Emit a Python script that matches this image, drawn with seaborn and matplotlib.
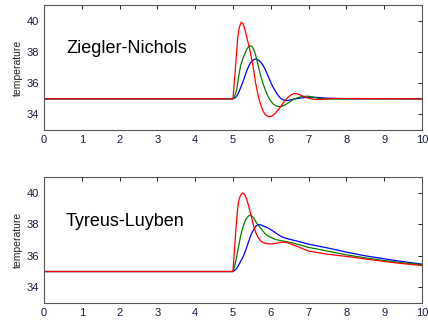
import matplotlib
matplotlib.use("Agg")
import matplotlib.pyplot as plt
import seaborn as sns
import pandas as pd

# ---- data ----
zn_red_t = [0, 5.0, 5.04, 5.07, 5.1, 5.13, 5.17, 5.22, 5.27, 5.32, 5.38, 5.44, 5.5, 5.55, 5.6, 5.65, 5.69, 5.74, 5.78, 5.85, 5.94, 6.02, 6.09, 6.18, 6.27, 6.35, 6.44, 6.53, 6.62, 6.7, 6.8, 6.9, 7.0, 7.15, 7.33, 7.6, 8.0, 10.0]
zn_red_y = [35, 35.0, 36.2, 37.1, 38.1, 39.0, 39.6, 39.9, 39.8, 39.4, 38.8, 38.2, 37.5, 36.8, 36.0, 35.4, 34.96, 34.6, 34.3, 34.0, 33.85, 33.88, 34.0, 34.25, 34.53, 34.8, 35.06, 35.24, 35.34, 35.32, 35.23, 35.12, 35.04, 34.96, 34.96, 35.02, 35.02, 35.0]
zn_green_t = [0, 5.0, 5.05, 5.1, 5.15, 5.2, 5.25, 5.3, 5.37, 5.44, 5.5, 5.55, 5.6, 5.65, 5.7, 5.75, 5.8, 5.85, 5.9, 5.95, 6.0, 6.05, 6.12, 6.22, 6.3, 6.4, 6.5, 6.6, 6.7, 6.8, 6.97, 7.1, 7.2, 7.35, 7.5, 8.0, 10.0]
zn_green_y = [35, 35.0, 35.2, 35.6, 36.4, 37.1, 37.5, 37.8, 38.2, 38.4, 38.35, 38.15, 37.8, 37.3, 36.8, 36.34, 35.95, 35.6, 35.3, 35.06, 34.86, 34.7, 34.57, 34.49, 34.52, 34.64, 34.8, 34.96, 35.06, 35.13, 35.17, 35.12, 35.06, 35.0, 34.98, 35.0, 35.0]
zn_blue_t = [0, 5.0, 5.05, 5.1, 5.15, 5.2, 5.25, 5.3, 5.35, 5.4, 5.45, 5.5, 5.56, 5.62, 5.68, 5.75, 5.8, 5.85, 5.9, 5.95, 6.0, 6.05, 6.1, 6.15, 6.2, 6.25, 6.31, 6.37, 6.44, 6.5, 6.6, 6.7, 6.85, 7.0, 7.15, 7.5, 8.0, 10.0]
zn_blue_y = [35, 35.0, 35.05, 35.17, 35.4, 35.7, 36.0, 36.34, 36.7, 37.0, 37.25, 37.4, 37.52, 37.55, 37.47, 37.3, 37.12, 36.9, 36.62, 36.34, 36.05, 35.8, 35.58, 35.38, 35.2, 35.06, 34.95, 34.9, 34.89, 34.92, 34.97, 35.02, 35.07, 35.1, 35.1, 35.04, 35.0, 35.0]

tl_red_t = [0, 5.0, 5.04, 5.08, 5.12, 5.15, 5.2, 5.25, 5.3, 5.35, 5.4, 5.45, 5.5, 5.55, 5.6, 5.65, 5.7, 5.75, 5.8, 5.85, 5.92, 6.0, 6.08, 6.15, 6.3, 6.4, 6.5, 6.62, 6.75, 6.88, 7.0, 7.25, 7.5, 7.75, 8.0, 8.5, 9.0, 9.5, 10.0]
tl_red_y = [35, 35.0, 36.4, 37.77, 38.9, 39.47, 39.85, 40.0, 39.92, 39.68, 39.3, 38.83, 38.35, 37.87, 37.5, 37.23, 37.05, 36.91, 36.84, 36.8, 36.77, 36.75, 36.77, 36.8, 36.87, 36.86, 36.78, 36.67, 36.55, 36.42, 36.3, 36.2, 36.1, 36.03, 35.96, 35.8, 35.64, 35.5, 35.38]
tl_green_t = [0, 5.0, 5.05, 5.1, 5.15, 5.2, 5.25, 5.3, 5.35, 5.4, 5.47, 5.55, 5.6, 5.65, 5.7, 5.75, 5.8, 5.85, 5.92, 6.0, 6.08, 6.15, 6.3, 6.45, 6.6, 6.8, 7.0, 7.25, 7.5, 7.75, 8.0, 8.5, 9.0, 9.5, 10.0]
tl_green_y = [35, 35.0, 35.4, 35.96, 36.6, 37.23, 37.7, 38.09, 38.35, 38.5, 38.62, 38.4, 38.2, 37.98, 37.85, 37.7, 37.55, 37.4, 37.27, 37.17, 37.08, 37.02, 36.95, 36.88, 36.8, 36.67, 36.53, 36.42, 36.3, 36.18, 36.06, 35.87, 35.7, 35.56, 35.43]
tl_blue_t = [0, 5.0, 5.05, 5.1, 5.15, 5.2, 5.25, 5.29, 5.35, 5.4, 5.45, 5.5, 5.55, 5.6, 5.65, 5.69, 5.75, 5.8, 5.9, 6.0, 6.08, 6.15, 6.27, 6.38, 6.5, 6.75, 7.0, 7.25, 7.5, 7.75, 8.0, 8.5, 9.0, 9.5, 10.0]
tl_blue_y = [35, 35.0, 35.08, 35.21, 35.4, 35.64, 35.85, 36.06, 36.45, 36.8, 37.15, 37.45, 37.68, 37.87, 37.95, 37.98, 37.95, 37.9, 37.8, 37.66, 37.54, 37.42, 37.23, 37.13, 37.05, 36.9, 36.74, 36.62, 36.5, 36.37, 36.23, 36.0, 35.81, 35.63, 35.47]

panel_titles = ["Ziegler-Nichols", "Tyreus-Luyben"]
x_ticks = list(range(0, 11))
y_ticks = [34, 36, 38, 40]
y_label = "temperature"
series_order = ["blue", "green", "red"]
palette = {"blue": "#0000ff", "green": "#008000", "red": "#ff0000"}


def build(parts):
    frames = []
    for name, t, y in parts:
        frames.append(pd.DataFrame({"time": t, "temp": y, "series": name}))
    return pd.concat(frames, ignore_index=True)


df_zn = build([("blue", zn_blue_t, zn_blue_y), ("green", zn_green_t, zn_green_y), ("red", zn_red_t, zn_red_y)])
df_tl = build([("blue", tl_blue_t, tl_blue_y), ("green", tl_green_t, tl_green_y), ("red", tl_red_t, tl_red_y)])

sns.set_theme(style="white")
plt.rcParams["font.family"] = ["Liberation Sans", "DejaVu Sans"]

fig = plt.figure(figsize=(4.28, 3.22), dpi=100)
ax1 = fig.add_axes([0.1028, 0.596, 0.883, 0.3885])
ax2 = fig.add_axes([0.1028, 0.059, 0.883, 0.391])

for ax, df, title in [(ax1, df_zn, panel_titles[0]), (ax2, df_tl, panel_titles[1])]:
    sns.lineplot(data=df, x="time", y="temp", hue="series", hue_order=series_order,
                 palette=palette, ax=ax, legend=False, sort=False, estimator=None,
                 linewidth=0.9)
    ax.set_xlim(0, 10)
    ax.set_ylim(33, 41)
    ax.set_xticks(x_ticks)
    ax.set_yticks(y_ticks)
    ax.set_xlabel("")
    ax.set_ylabel(y_label, fontsize=7.5, labelpad=3, color="#222222")
    ax.tick_params(direction="in", length=3, width=0.7, top=True, right=True,
                   labelsize=8, colors="#222222", labelcolor="#1a1a40", pad=3.5)
    for s in ax.spines.values():
        s.set_color("#555555")
        s.set_linewidth(0.8)
    ax.text(0.58, 38.2, title, fontsize=13, color="black", va="center", ha="left")

fig.savefig("out.png", dpi=100)
